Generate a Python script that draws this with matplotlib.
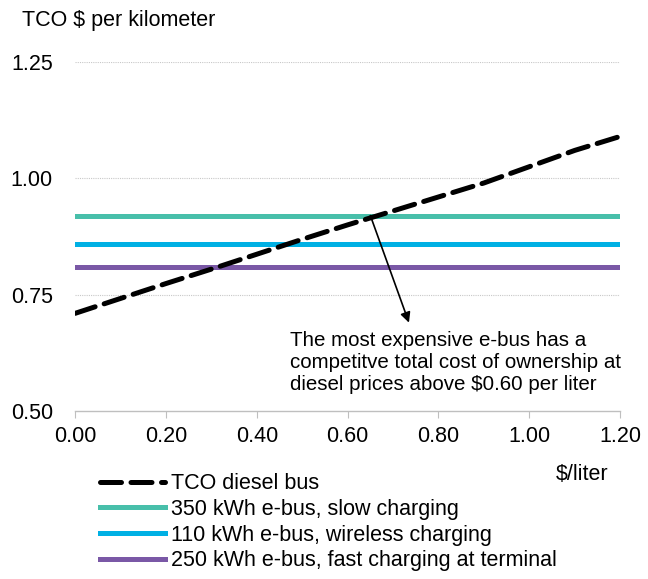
import matplotlib
matplotlib.use("Agg")
import matplotlib.pyplot as plt

plt.rcParams['font.family'] = ['Liberation Sans', 'DejaVu Sans']

# diesel price ($/liter) and TCO ($ per km)
diesel_price = [0.0, 0.1, 0.2, 0.3, 0.4, 0.5, 0.6, 0.7, 0.8, 0.9, 1.0, 1.1, 1.2]
tco_diesel = [0.71, 0.742, 0.774, 0.805, 0.837, 0.869, 0.90, 0.93, 0.96, 0.99, 1.025, 1.06, 1.09]

ebus_labels = ["350 kWh e-bus, slow charging",
               "110 kWh e-bus, wireless charging",
               "250 kWh e-bus, fast charging at terminal"]
ebus_tco = [0.92, 0.86, 0.81]
ebus_colors = ["#48BFAA", "#00B0E4", "#7A58A6"]

x_ticks = [0.0, 0.2, 0.4, 0.6, 0.8, 1.0, 1.2]
y_ticks = [0.50, 0.75, 1.00, 1.25]

fs = 15.5

fig = plt.figure(figsize=(6.48, 5.79), dpi=100)
ax = fig.add_axes([0.116, 0.290, 0.841, 0.603])

ax.plot(diesel_price, tco_diesel, color='black', lw=3.6, ls=(0, (4.2, 1.9)),
        label="TCO diesel bus", zorder=4, dash_capstyle='round')
for lab, val, col in zip(ebus_labels, ebus_tco, ebus_colors):
    ax.plot([diesel_price[0], diesel_price[-1]], [val, val], color=col, lw=3.6,
            label=lab, zorder=3)

ax.set_xlim(0, 1.2)
ax.set_ylim(0.5, 1.25)
ax.set_xticks(x_ticks)
ax.set_xticklabels([f"{v:.2f}" for v in x_ticks], fontsize=fs)
ax.set_yticks(y_ticks)
ax.set_yticklabels([f"{v:.2f}" for v in y_ticks], fontsize=fs)
ax.tick_params(axis='y', length=0, pad=16)
ax.tick_params(axis='x', length=5, color='#BFBFBF', pad=6)
for s in ['top', 'right', 'left']:
    ax.spines[s].set_visible(False)
ax.spines['bottom'].set_color('#BFBFBF')
ax.spines['bottom'].set_linewidth(1.0)
for v in y_ticks[1:]:
    ax.axhline(v, color='#C8C8C8', lw=0.8, ls=(0, (1, 1)), zorder=1)

ax.annotate("", xy=(0.735, 0.69), xytext=(0.65, 0.92),
            arrowprops=dict(arrowstyle='-|>', color='black', lw=1.2,
                            mutation_scale=15, shrinkA=0, shrinkB=0))
ax.text(0.394, 0.228,
        "The most expensive e-bus has a\ncompetitve total cost of ownership at\ndiesel prices above $0.60 per liter",
        fontsize=14.8, va='top', ha='left', linespacing=1.2, transform=ax.transAxes)

fig.text(0.034, 0.965, "TCO $ per kilometer", fontsize=fs, va='center', ha='left')
fig.text(0.857, 0.18, "$/liter", fontsize=fs, va='center', ha='left')

leg = fig.legend(loc='upper left', bbox_to_anchor=(0.155, 0.183), frameon=False,
                 fontsize=fs, handlelength=3.0, handletextpad=0.3,
                 labelspacing=0.22, borderaxespad=0, borderpad=0)

fig.savefig("out.png", dpi=100)
